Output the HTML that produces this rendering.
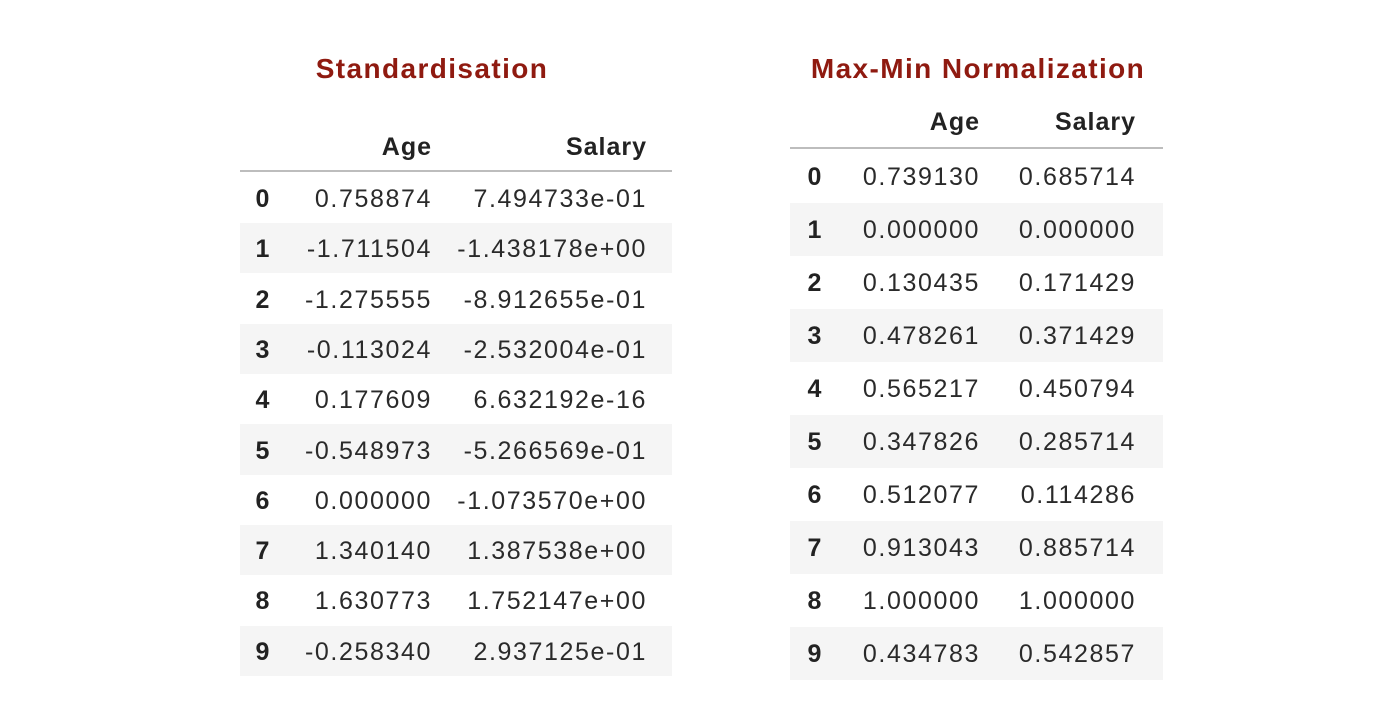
<!DOCTYPE html>
<html><head><meta charset="utf-8"><style>
body{margin:0;width:1400px;height:719px;background:#fff;position:relative;overflow:hidden;font-family:"Liberation Sans",sans-serif;}
.t{position:absolute;font-weight:bold;color:#8f1a10;font-size:28px;letter-spacing:1.4px;transform:translateX(-50%);white-space:nowrap;line-height:1}
.c{position:absolute;font-size:25px;color:#2a2a2a;letter-spacing:1.6px;white-space:nowrap;line-height:1}
.h{font-weight:bold;color:#222;letter-spacing:1px}
.band{position:absolute;background:#f5f5f5}
.line{position:absolute;height:2px;background:#bdbdbd}
</style></head><body>
<div class="t" style="left:432px;top:55px">Standardisation</div>
<div class="t" style="left:978px;top:55px">Max-Min Normalization</div>
<script>
const stdAge=["0.758874","-1.711504","-1.275555","-0.113024","0.177609","-0.548973","0.000000","1.340140","1.630773","-0.258340"];
const stdSal=["7.494733e-01","-1.438178e+00","-8.912655e-01","-2.532004e-01","6.632192e-16","-5.266569e-01","-1.073570e+00","1.387538e+00","1.752147e+00","2.937125e-01"];
const nrmAge=["0.739130","0.000000","0.130435","0.478261","0.565217","0.347826","0.512077","0.913043","1.000000","0.434783"];
const nrmSal=["0.685714","0.000000","0.171429","0.371429","0.450794","0.285714","0.114286","0.885714","1.000000","0.542857"];
const root=document.body;
function cell(txt,x,y,align,cls,name){
  const d=document.createElement('div');
  d.className='c'+(cls?' '+cls:'');
  d.textContent=txt;
  
  
  d.style.top=(y-11)+'px';
  if(align==='r'){d.style.right=(1400-x-1)+'px';}else{d.style.left=x+'px';d.style.transform='translateX(-50%)';}
  root.appendChild(d);
}
function table(cfg,ages,sals,prefix){
  const hl=document.createElement('div');hl.className='line';
  
  
  hl.style.left=cfg.x0+'px';hl.style.width=(cfg.x1-cfg.x0)+'px';hl.style.top=(cfg.line-1)+'px';root.appendChild(hl);
  for(let i=0;i<ages.length;i++){
    const cy=cfg.r0+i*cfg.rh;
    if(i%2===1){const b=document.createElement('div');b.className='band';
      
      
      b.style.left=cfg.x0+'px';b.style.width=(cfg.x1-cfg.x0)+'px';b.style.top=(cy-cfg.rh/2)+'px';b.style.height=cfg.rh+'px';root.insertBefore(b,root.firstChild);}
    cell(String(i),cfg.ix,cy,'c','h',prefix+'-row-index');
    cell(ages[i],cfg.ax,cy,'r','',prefix+'-age-cell');
    cell(sals[i],cfg.sx,cy,'r','',prefix+'-salary-cell');
  }
  cell('Age',cfg.ax,cfg.hy,'r','h',prefix+'-age-header');
  cell('Salary',cfg.sx,cfg.hy,'r','h',prefix+'-salary-header');
}
table({x0:240,x1:672,line:171,r0:198,rh:50.3,ix:263,ax:431,sx:646,hy:146},stdAge,stdSal,'std');
table({x0:790,x1:1163,line:148,r0:176,rh:53,ix:815,ax:979,sx:1135,hy:121},nrmAge,nrmSal,'norm');
</script>
</body></html>
